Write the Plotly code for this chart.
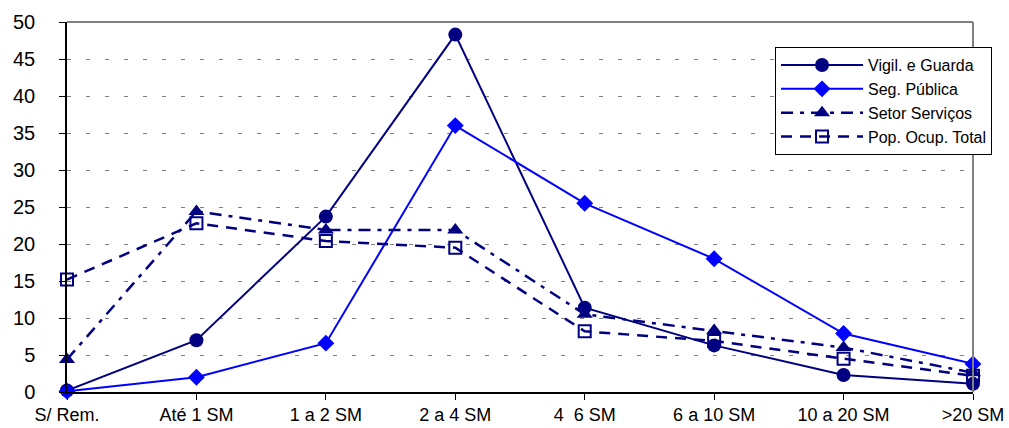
import plotly.graph_objects as go

categories = ["S/ Rem.", "Até 1 SM", "1 a 2 SM", "2 a 4 SM", "4  6 SM", "6 a 10 SM", "10 a 20 SM", ">20 SM"]
vigil = [0.2, 7.0, 23.7, 48.3, 11.4, 6.3, 2.3, 1.1]
seg_publica = [0.1, 2.0, 6.6, 36.0, 25.5, 18.0, 7.9, 3.8]
setor_servicos = [4.4, 24.4, 21.9, 21.9, 10.5, 8.3, 6.0, 2.6]
pop_ocup = [15.2, 22.8, 20.4, 19.5, 8.2, 6.9, 4.5, 2.2]
y_ticks = [0, 5, 10, 15, 20, 25, 30, 35, 40, 45, 50]

NAVY = "#000080"
BLUE = "#0000FF"
FONT = "Liberation Sans, Arial, sans-serif"

fig = go.Figure()
fig.add_trace(go.Scatter(
    x=categories, y=vigil, name="Vigil. e Guarda", mode="lines+markers",
    line=dict(color=NAVY, width=2),
    marker=dict(symbol="circle", size=14, color=NAVY),
    cliponaxis=False,
))
fig.add_trace(go.Scatter(
    x=categories, y=seg_publica, name="Seg. Pública", mode="lines+markers",
    line=dict(color=BLUE, width=2),
    marker=dict(symbol="diamond", size=13, color=BLUE),
    cliponaxis=False,
))
fig.add_trace(go.Scatter(
    x=categories, y=setor_servicos, name="Setor Serviços", mode="lines+markers",
    line=dict(color=NAVY, width=2.5, dash="12px,7px,4px,7px"),
    marker=dict(symbol="triangle-up", size=14, color=NAVY),
    cliponaxis=False,
))
fig.add_trace(go.Scatter(
    x=categories, y=pop_ocup, name="Pop. Ocup. Total", mode="lines+markers",
    line=dict(color=NAVY, width=2.5, dash="11px,8px"),
    marker=dict(symbol="square-open", size=12, color=NAVY, line=dict(width=2, color=NAVY)),
    cliponaxis=False,
))

fig.update_layout(
    width=1009, height=428,
    margin=dict(l=67, r=36, t=22, b=36),
    paper_bgcolor="white", plot_bgcolor="white",
    font=dict(family=FONT, color="black"),
    showlegend=True,
    legend=dict(
        x=0.7815, y=0.932, xanchor="left", yanchor="top",
        bgcolor="white", bordercolor="black", borderwidth=1,
        font=dict(size=16, family=FONT, color="black"),
        itemwidth=82, tracegroupgap=0,
    ),
    xaxis=dict(
        type="category", range=[0, 7], showgrid=False,
        showline=True, linecolor="black", linewidth=1.5,
        ticks="outside", ticklen=6, tickcolor="black",
        tickfont=dict(size=18, family=FONT, color="black"),
        zeroline=False, automargin=False,
    ),
    yaxis=dict(
        range=[0, 50], tickvals=y_ticks,
        showgrid=True, gridcolor="#808080", griddash="4px,15px", gridwidth=1,
        showline=True, linecolor="black", linewidth=1.5,
        ticks="outside", ticklen=6, tickcolor="black",
        tickfont=dict(size=20, family=FONT, color="black"),
        ticklabelstandoff=20,
        zeroline=False, automargin=False,
    ),
    shapes=[
        dict(type="line", xref="paper", yref="paper", x0=0, x1=1, y0=1, y1=1,
             line=dict(color="#808080", width=2)),
        dict(type="line", xref="paper", yref="paper", x0=1, x1=1, y0=0, y1=1,
             line=dict(color="#808080", width=2)),
    ],
)

fig.write_html(
    "out.html",
    config={"displayModeBar": False},
    post_script="document.body.style.margin='0';document.body.style.overflow='hidden';",
)
